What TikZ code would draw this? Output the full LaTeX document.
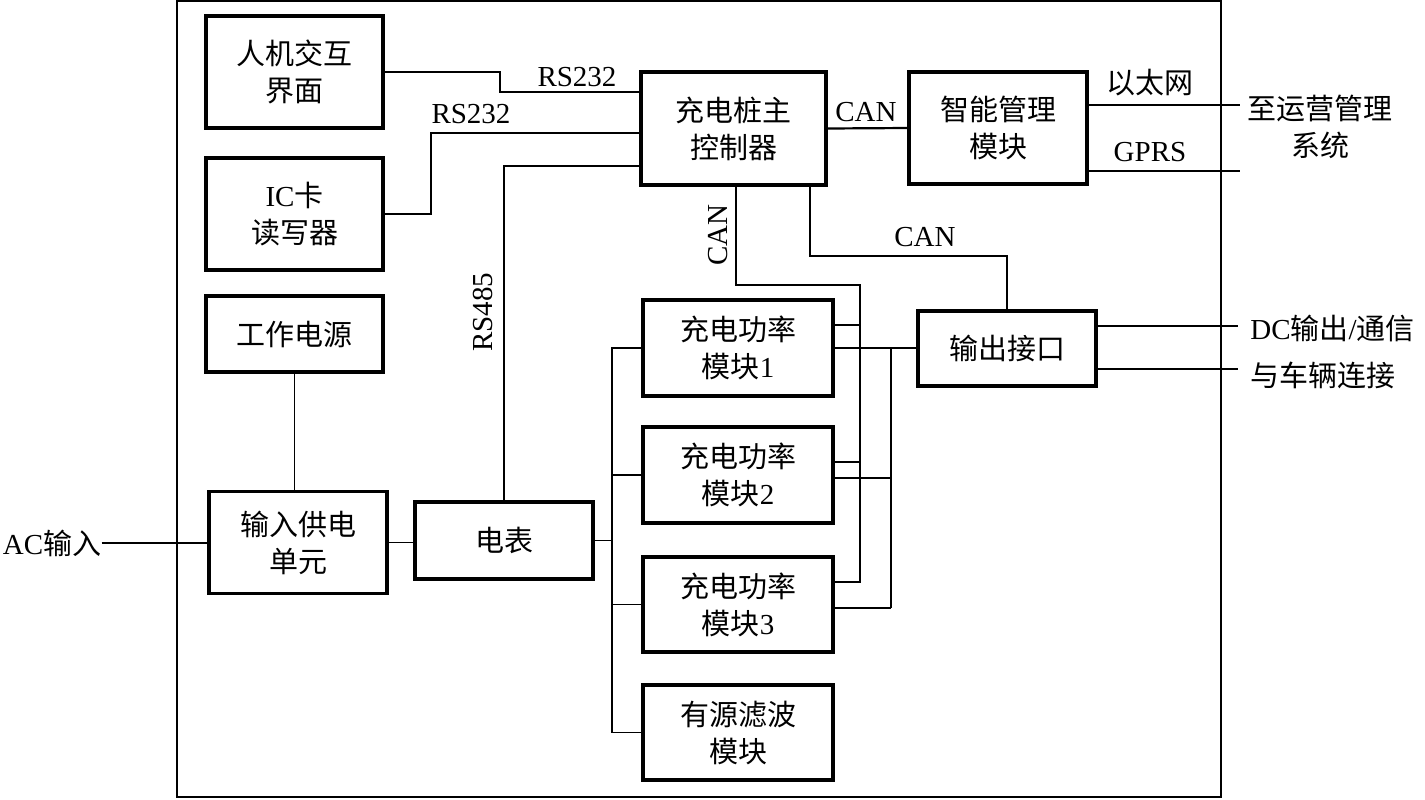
\documentclass[tikz,border=0pt]{standalone}
\usepackage{fontspec}
\setmainfont{Liberation Serif}
\newfontfamily\cjk{Noto Sans CJK SC}
\newcommand{\zh}[1]{{\cjk #1}}
\begin{document}
\begin{tikzpicture}[x=0.5pt,y=-0.5pt,
  box/.style={draw, line width=1.6pt, inner sep=0pt, align=center, font=\fontsize{14.5}{18.5}\selectfont},
  wire/.style={line width=0.8pt},
  thickwire/.style={line width=1.1pt},
  frame/.style={line width=0.7pt},
  lbl/.style={inner sep=0pt, font=\fontsize{14.5}{18.5}\selectfont}]
\useasboundingbox (0,0) rectangle (1425,799);
\draw[frame] (177,1) rectangle (1221,797);

% boxes
\node[box, minimum width=88.5pt, minimum height=56pt] (hmi) at (294.5,72) {\zh{人机交互}\\\zh{界面}};
\node[box, minimum width=88.5pt, minimum height=56pt] (ic) at (294.5,214) {IC\zh{卡}\\\zh{读写器}};
\node[box, minimum width=88.5pt, minimum height=38pt] (pwr) at (294.5,334) {\zh{工作电源}};
\node[box, minimum width=89pt, minimum height=51pt] (inp) at (298,542.5) {\zh{输入供电}\\\zh{单元}};
\node[box, minimum width=89pt, minimum height=38.5pt] (meter) at (504,540.5) {\zh{电表}};
\node[box, minimum width=92.5pt, minimum height=56.5pt] (ctrl) at (733.5,128.5) {\zh{充电桩主}\\\zh{控制器}};
\node[box, minimum width=89pt, minimum height=56pt] (smart) at (998,128) {\zh{智能管理}\\\zh{模块}};
\node[box, minimum width=95pt, minimum height=48pt] (m1) at (738,348) {\zh{充电功率}\\\zh{模块}1};
\node[box, minimum width=95pt, minimum height=48pt] (m2) at (738,475) {\zh{充电功率}\\\zh{模块}2};
\node[box, minimum width=95pt, minimum height=47.5pt] (m3) at (738,604.5) {\zh{充电功率}\\\zh{模块}3};
\node[box, minimum width=95pt, minimum height=47.5pt] (filt) at (738,732.5) {\zh{有源滤波}\\\zh{模块}};
\node[box, minimum width=89pt, minimum height=37.5pt] (out) at (1007,348.5) {\zh{输出接口}};

% outside texts
\node[lbl] (acin) at (52,543) {AC\zh{输入}};
\node[lbl, align=center] (ops) at (1320,127) {\zh{至运营管理}\\\zh{系统}};
\node[lbl, anchor=west] (dc) at (1250,328) {DC\zh{输出}/\zh{通信}};
\node[lbl, anchor=west] (veh) at (1250,375) {\zh{与车辆连接}};

% free ends
\coordinate (ethend) at (1240,105);
\coordinate (gprsend) at (1240,171);
\coordinate (dcend) at (1238,326);
\coordinate (vehend) at (1238,369);

% labels
\node[lbl] (lrs1) at (577,77) {RS232};
\node[lbl] (lrs2) at (471,114) {RS232};
\node[lbl, rotate=90] (lrs485) at (483,312) {RS485};
\node[lbl] (lcan1) at (866,112) {CAN};
\node[lbl, rotate=90] (lcan2) at (718,235) {CAN};
\node[lbl] (lcan3) at (925,237) {CAN};
\node[lbl] (leth) at (1150,83) {\zh{以太网}};
\node[lbl] (lgprs) at (1150,152) {GPRS};

% connectors
\draw[wire] (hmi.east) -- (500,72) -- (500,92) -- (ctrl.west |- 500,92);
\draw[wire] (ic.east) -- (431,214) -- (431,133) -- (ctrl.west |- 431,133);
\draw[wire] (meter.north) |- (ctrl.west |- 0,166);
\draw[wire] (pwr.south) -- (pwr.south |- inp.north);
\draw[wire] (acin.east) -- (inp.west |- acin.east);
\draw[wire] (inp.east) -- (meter.west |- inp.east);
\draw[wire] (meter.east) -- (meter.east -| 612,0);
\draw[wire] (m1.west) -- (m1.west -| 612,0) -- (filt.west -| 612,0) -- (filt.west);
\draw[wire] (m2.west) -- (m2.west -| 612,0);
\draw[wire] (m3.west) -- (m3.west -| 612,0);

\draw[thickwire] (ctrl.east) -- (smart.west);
\draw[thickwire] (smart.east |- 0,105) -- (ethend);
\draw[thickwire] (smart.east |- 0,171) -- (gprsend);

\draw[wire] (ctrl.south -| 736,0) -- (736,285) -| (860,582) -- (m3.east |- 0,582);
\draw[wire] (m1.east |- 0,325) -- (860,325);
\draw[wire] (m2.east |- 0,462) -- (860,462);

\draw[wire] (ctrl.south -| 810,0) -- (810,256) -| (out.north);

\draw[thickwire] (m1.east) -- (out.west |- m1.east);
\draw[wire] (891,348) -- (891,608);
\draw[thickwire] (m2.east |- 0,478) -- (891,478);
\draw[thickwire] (m3.east |- 0,608) -- (891,608);

\draw[wire] (out.east |- 0,326) -- (dcend);
\draw[wire] (out.east |- 0,369) -- (vehend);
\end{tikzpicture}
\end{document}
